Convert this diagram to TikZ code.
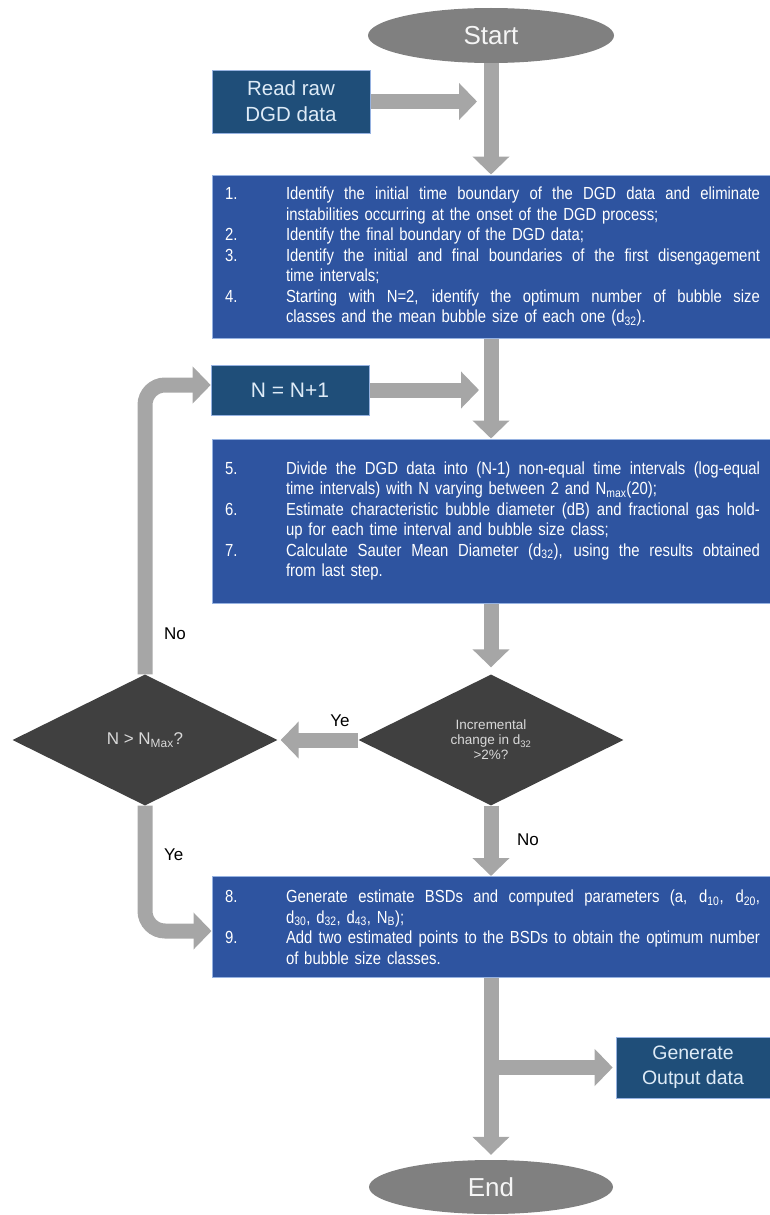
\documentclass[tikz,border=0pt]{standalone}
\usepackage{fontspec}
\setmainfont{Liberation Sans}
\newfontfamily\nar[FakeStretch=0.85]{Liberation Sans}
\usetikzlibrary{shapes.geometric,arrows.meta,calc}
\pgfdeclarelayer{bg}
\pgfsetlayers{bg,main}
\definecolor{bblue}{RGB}{46,84,160}
\definecolor{bborder}{RGB}{150,178,225}
\definecolor{dblue}{RGB}{31,78,121}
\definecolor{dtext}{RGB}{222,235,247}
\definecolor{ellgray}{RGB}{128,128,128}
\definecolor{elltext}{RGB}{245,245,245}
\definecolor{dgray}{RGB}{64,64,64}
\definecolor{dgtext}{RGB}{217,217,217}
\definecolor{arrgray}{RGB}{166,166,166}
\newcommand\nm[1]{\makebox[64pt][l]{\hspace*{3pt}#1}}
\newcommand\jl[1]{\hbox to 474pt{\spaceskip=0.25em plus 1fil\xspaceskip=0.25em plus 1fil\relax #1}}
\newcommand\ind{\hspace*{64pt}}
\begin{document}
\begin{tikzpicture}[x=1pt,y=-1pt,
  arr/.style={draw=arrgray, line width=15pt, -{Triangle[width=36pt,length=18pt]}},
  term/.style={ellipse, fill=ellgray, minimum width=246pt, minimum height=55pt, inner sep=0pt, text=elltext, font=\fontsize{26}{30}\selectfont},
  dbox/.style={rectangle, fill=dblue, draw=bborder, line width=0.6pt, minimum width=158pt, minimum height=63pt, inner sep=0pt, align=center, text=dtext, font=\fontsize{20.5}{26}\selectfont},
  bbox/.style={rectangle, fill=bblue, draw=bborder, line width=1pt, minimum width=558pt, inner xsep=10pt, inner ysep=0pt, text width=538pt, align=left, text=white, font=\nar\fontsize{17.5}{20.5}\selectfont},
  dec/.style={diamond, fill=dgray, minimum width=265pt, minimum height=131pt, inner sep=0pt, align=center, text=dgtext},
  lbl/.style={font=\fontsize{17}{20}\selectfont, text=black, inner sep=0pt}]
\useasboundingbox (0,0) rectangle (770,1215);

\node[term] (start) at (491,35.5) {Start};
\node[dbox] (read) at (291,101.5) {Read raw\\DGD data};
\node[bbox, minimum height=163pt] (box1) at (491,256.5) {\noindent
\nm{1.}\jl{Identify the initial time boundary of the DGD data and eliminate}\\
\ind instabilities occurring at the onset of the DGD process;\\
\nm{2.}Identify the final boundary of the DGD data;\\
\nm{3.}\jl{Identify the initial and final boundaries of the first disengagement}\\
\ind time intervals;\\
\nm{4.}\jl{Starting with N=2, identify the optimum number of bubble size}\\
\ind classes and the mean bubble size of each one (d\textsubscript{32}).};
\node[dbox, minimum height=50pt, font=\fontsize{21}{25}\selectfont] (nbox) at (290,390) {N = N+1};
\node[bbox, minimum height=164pt] (box2) at (491,521) {\noindent
\nm{5.}\jl{Divide the DGD data into (N-1) non-equal time intervals (log-equal}\\
\ind time intervals) with N varying between 2 and N\textsubscript{max}(20);\\
\nm{6.}\jl{Estimate characteristic bubble diameter (dB) and fractional gas hold-}\\
\ind up for each time interval and bubble size class;\\
\nm{7.}\jl{Calculate Sauter Mean Diameter (d\textsubscript{32}), using the results obtained}\\
\ind from last step.};
\node[dec, font=\fontsize{13.5}{15}\selectfont] (d2) at (491,740) {Incremental\\change in d\textsubscript{32}\\>2\%?};
\node[dec, font=\fontsize{17}{20}\selectfont] (d1) at (145,740) {N > N\textsubscript{Max}?};
\node[bbox, minimum height=101pt] (box3) at (491,927) {\noindent
\nm{8.}\jl{Generate estimate BSDs and computed parameters (a, d\textsubscript{10}, d\textsubscript{20},}\\
\ind d\textsubscript{30}, d\textsubscript{32}, d\textsubscript{43}, N\textsubscript{B});\\
\nm{9.}\jl{Add two estimated points to the BSDs to obtain the optimum number}\\
\ind of bubble size classes.};
\node[dbox, minimum width=154pt, minimum height=61pt, font=\fontsize{19.5}{25}\selectfont] (gen) at (693,1067.5) {Generate\\Output data};
\node[term, minimum width=244pt, minimum height=54pt] (end) at (491,1187) {End};

\node[lbl, anchor=west] (lno1) at (164,634) {No};
\node[lbl] (lye1) at (340,721) {Ye};
\node[lbl, anchor=west] (lye2) at (164,855) {Ye};
\node[lbl, anchor=west] (lno2) at (517,840) {No};

\coordinate (j1) at ($(start |- read.east)+(-14,0)$);
\coordinate (j2) at ($(start |- nbox.east)+(-12,0)$);
\coordinate (j3) at (start |- gen.west);

\begin{pgfonlayer}{bg}
\draw[arr] (start) -- (box1.north);
\draw[arr] (read.east) -- (j1);
\draw[arr] (box1.south) -- (box2.north);
\draw[arr] (nbox.east) -- (j2);
\draw[arr] (box2.south) -- ($(d2.north)+(0,-7)$);
\draw[arr] (d2) -- ($(d1.east)+(3,0)$);
\draw[arr, rounded corners=20pt] (d1) |- ($(nbox.west)+(0,-5)$);
\draw[arr, rounded corners=20pt] (d1) |- ($(box3.west)+(0,4)$);
\draw[arr] (d2) -- (box3.north);
\draw[arr] (box3.south) -- ($(end.north)+(0,-5)$);
\draw[arr] (j3) -- ($(gen.west)+(-3,0)$);
\end{pgfonlayer}
\end{tikzpicture}
\end{document}
